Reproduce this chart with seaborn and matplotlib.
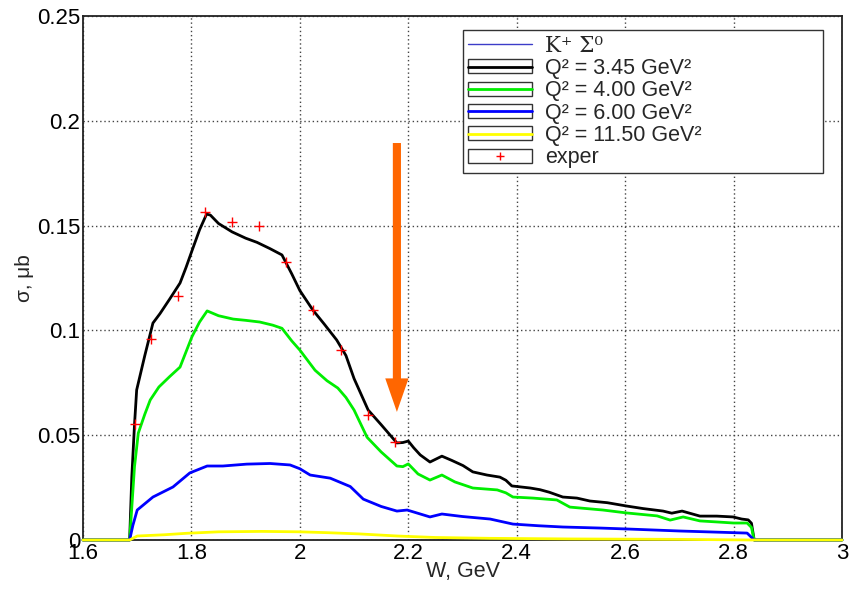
import numpy as np
import pandas as pd
import matplotlib
matplotlib.use("Agg")
import matplotlib.pyplot as plt
from matplotlib.lines import Line2D
from matplotlib.patches import Rectangle
from matplotlib.legend_handler import HandlerTuple
from matplotlib.ticker import MultipleLocator, FuncFormatter
import seaborn as sns

# ---- cross sections sigma(W) for K+ Sigma0 electroproduction ----
w_q345 = [1.600, 1.686, 1.690, 1.695, 1.699, 1.714, 1.729, 1.742, 1.760, 1.779, 1.790,
          1.801, 1.815, 1.828, 1.835, 1.850, 1.875, 1.900, 1.921, 1.945, 1.967, 1.985,
          2.000, 2.024, 2.045, 2.068, 2.085, 2.100, 2.126, 2.150, 2.179, 2.190, 2.200,
          2.210, 2.222, 2.240, 2.262, 2.280, 2.301, 2.319, 2.345, 2.369, 2.380, 2.391,
          2.425, 2.443, 2.460, 2.485, 2.511, 2.535, 2.567, 2.603, 2.633, 2.670, 2.686,
          2.705, 2.738, 2.769, 2.799, 2.815, 2.827, 2.833, 2.838, 3.000]
s_q345 = [0.0, 0.0, 0.030, 0.055, 0.0716, 0.088, 0.1035, 0.108, 0.115, 0.1226, 0.130,
          0.138, 0.148, 0.1555, 0.155, 0.151, 0.147, 0.144, 0.142, 0.139, 0.136, 0.127,
          0.119, 0.1097, 0.103, 0.0954, 0.088, 0.077, 0.062, 0.055, 0.0463, 0.0465, 0.0472,
          0.0440, 0.0406, 0.0372, 0.0400, 0.0380, 0.0355, 0.0325, 0.0310, 0.0300, 0.0285, 0.0258,
          0.0248, 0.0240, 0.0228, 0.0205, 0.0200, 0.0186, 0.0178, 0.0162, 0.0150, 0.0138, 0.0128,
          0.0138, 0.0114, 0.0114, 0.0110, 0.0100, 0.0096, 0.0080, 0.0, 0.0]

w_q400 = [1.600, 1.686, 1.695, 1.702, 1.714, 1.724, 1.740, 1.760, 1.779, 1.801, 1.815,
          1.829, 1.850, 1.877, 1.900, 1.926, 1.950, 1.967, 1.985, 2.000, 2.028, 2.050,
          2.070, 2.085, 2.100, 2.124, 2.150, 2.179, 2.190, 2.200, 2.218, 2.240, 2.262,
          2.286, 2.319, 2.364, 2.380, 2.393, 2.430, 2.474, 2.498, 2.559, 2.603, 2.659,
          2.683, 2.707, 2.738, 2.770, 2.800, 2.825, 2.833, 2.838, 3.000]
s_q400 = [0.0, 0.0, 0.035, 0.051, 0.060, 0.0668, 0.073, 0.078, 0.0825, 0.097, 0.104,
          0.1093, 0.107, 0.1054, 0.1048, 0.104, 0.1025, 0.101, 0.095, 0.0906, 0.081, 0.076,
          0.0725, 0.068, 0.062, 0.049, 0.042, 0.0353, 0.0350, 0.0363, 0.0315, 0.0286, 0.0310,
          0.0277, 0.0248, 0.0239, 0.0225, 0.0205, 0.0200, 0.0191, 0.0157, 0.0143, 0.0129, 0.0115,
          0.0095, 0.0110, 0.0091, 0.0086, 0.0081, 0.0081, 0.0060, 0.0, 0.0]

w_q600 = [1.600, 1.686, 1.692, 1.700, 1.729, 1.766, 1.797, 1.829, 1.858, 1.902, 1.945,
          1.982, 2.000, 2.019, 2.056, 2.093, 2.117, 2.150, 2.179, 2.198, 2.240, 2.262,
          2.300, 2.351, 2.393, 2.440, 2.485, 2.554, 2.609, 2.700, 2.825, 2.838, 3.000]
s_q600 = [0.0, 0.0, 0.007, 0.0143, 0.0205, 0.0253, 0.032, 0.0353, 0.0353, 0.0362, 0.0365,
          0.0358, 0.034, 0.031, 0.0295, 0.0255, 0.0195, 0.0160, 0.0138, 0.0143, 0.0110, 0.0124,
          0.0112, 0.0100, 0.0076, 0.0068, 0.0062, 0.0057, 0.0052, 0.0043, 0.0033, 0.0, 0.0]

w_q1150 = [1.600, 1.686, 1.700, 1.750, 1.791, 1.850, 1.930, 2.000, 2.050, 2.110, 2.180,
           2.250, 2.350, 2.500, 2.700, 2.838, 3.000]
s_q1150 = [0.0, 0.0, 0.0019, 0.0025, 0.0032, 0.0039, 0.0041, 0.0039, 0.0035, 0.0029, 0.0019,
           0.0012, 0.0008, 0.0005, 0.0003, 0.0, 0.0]

# measured points
w_exp = [1.695, 1.725, 1.775, 1.825, 1.875, 1.925, 1.975, 2.025, 2.075, 2.125, 2.175]
s_exp = [0.0552, 0.0959, 0.1166, 0.1567, 0.1516, 0.1498, 0.1328, 0.1097, 0.0906, 0.0596, 0.0466]

series_labels = ["Q² = 3.45 GeV²", "Q² = 4.00 GeV²", "Q² = 6.00 GeV²", "Q² = 11.50 GeV²"]
series_colors = ["#000000", "#00ee00", "#0000ff", "#ffff00"]
channel_label = "K⁺ Σ⁰"
exp_label = "exper"

# arrow marking W = 2.18 GeV
arrow_w = 2.179
arrow_top, arrow_tip = 0.1894, 0.0611

sns.set_style("white")
plt.rcParams["font.family"] = ["Liberation Sans", "DejaVu Sans"]

fig = plt.figure(figsize=(8.59, 5.89), dpi=100)
ax = fig.add_axes([83 / 859, 49 / 589, 759 / 859, 524 / 589])

curves = [(w_q345, s_q345), (w_q400, s_q400), (w_q600, s_q600), (w_q1150, s_q1150)]
for (w, s), col in zip(curves, series_colors):
    df = pd.DataFrame({"W": w, "sigma": s})
    sns.lineplot(data=df, x="W", y="sigma", color=col, lw=2.0, ax=ax, zorder=3)
for ln in ax.lines:
    ln.set_clip_on(False)
    ln.set_solid_joinstyle("round")

df_exp = pd.DataFrame({"W": w_exp, "sigma": s_exp})
sns.scatterplot(data=df_exp, x="W", y="sigma", marker="+", color="red", s=55,
                linewidth=1.0, ax=ax, zorder=5)

ax.arrow(arrow_w, arrow_top, 0, arrow_tip - arrow_top, width=0.0150, head_width=0.043,
         head_length=0.0160, length_includes_head=True, color="#ff6600", lw=0, zorder=6)

ax.set_xlim(1.6, 3.0)
ax.set_ylim(0, 0.25)
ax.xaxis.set_major_locator(MultipleLocator(0.2))
ax.xaxis.set_minor_locator(MultipleLocator(0.05))
ax.yaxis.set_major_locator(MultipleLocator(0.05))
ax.yaxis.set_minor_locator(MultipleLocator(0.01))
fmt = FuncFormatter(lambda v, p: f"{v:g}")
ax.xaxis.set_major_formatter(fmt)
ax.yaxis.set_major_formatter(fmt)

ax.tick_params(axis="both", which="both", direction="in", top=False, right=False,
               labelsize=16, colors="#222222", labelcolor="black", width=1.0)
ax.tick_params(axis="x", which="major", length=11.5, pad=2)
ax.tick_params(axis="x", which="minor", length=5.5)
ax.tick_params(axis="y", which="major", length=14, pad=2)
ax.tick_params(axis="y", which="minor", length=8.5)

ax.grid(True, which="major", linestyle=(0, (1, 2)), color="#444444", lw=1.0, zorder=0)
ax.set_axisbelow(True)
for sp in ax.spines.values():
    sp.set_visible(True)
    sp.set_color("#222222")
    sp.set_linewidth(1.3)

ax.set_xlabel("W, GeV", fontsize=15.5)
ax.set_ylabel("σ, μb", fontsize=15)
ax.xaxis.set_label_coords(0.5, -0.040)
ax.xaxis.label.set_va("top")
ax.yaxis.set_label_coords(-0.064, 0.5)

# legend with boxed line samples
handles = [Line2D([], [], color="#3c3cc8", lw=1.0)]
for col in series_colors:
    handles.append((Rectangle((0, 0), 1, 1, facecolor="white", edgecolor="#333333", lw=1.0),
                    Line2D([], [], color=col, lw=2.0)))
handles.append((Rectangle((0, 0), 1, 1, facecolor="white", edgecolor="#333333", lw=1.0),
                Line2D([], [], color="red", marker="+", ls="none", ms=6, mew=1.0)))
labels = [channel_label] + series_labels + [exp_label]

leg = fig.legend(handles, labels, loc="upper left",
                 bbox_to_anchor=(463 / 859, 1 - 167 / 589, 360 / 859, 137 / 589),
                 mode="expand", fontsize=15.5, frameon=True, fancybox=False,
                 framealpha=1, edgecolor="#333333", borderpad=0.22, labelspacing=0.06,
                 handlelength=3.0, handleheight=0.62, handletextpad=0.6, borderaxespad=0,
                 handler_map={tuple: HandlerTuple(ndivide=1)})
leg.get_frame().set_linewidth(1.0)
leg.get_texts()[0].set_fontfamily(["DejaVu Serif"])

fig.savefig("out.png", dpi=100)
